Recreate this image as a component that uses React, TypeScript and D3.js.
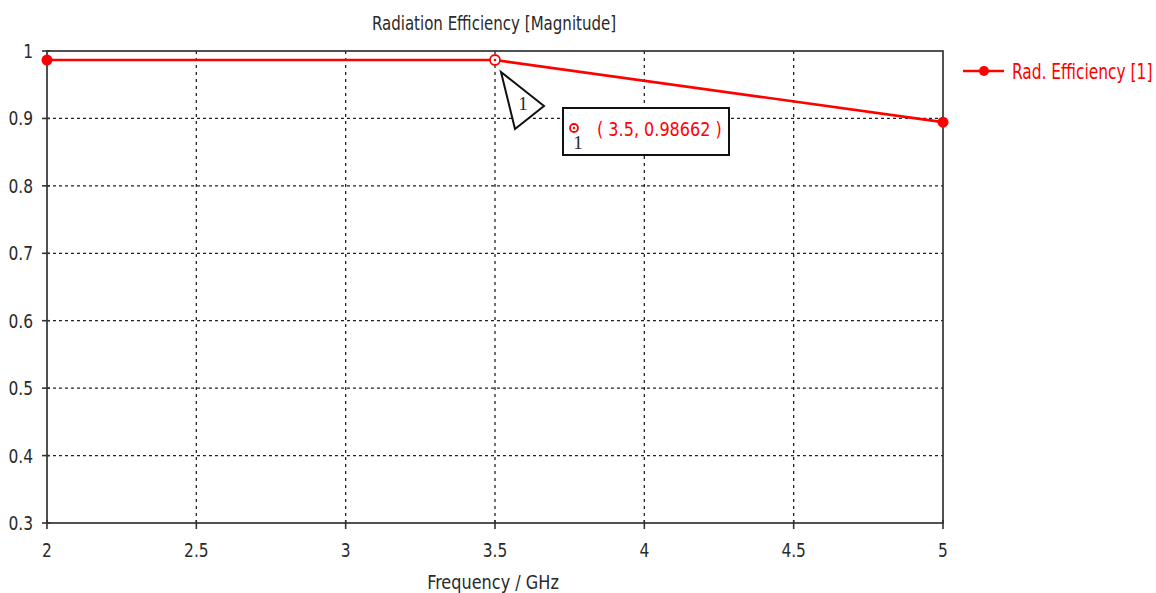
import React from "react";
import * as d3 from "d3";

const freqs = [2, 3.5, 5];
const radEff = [0.98655, 0.98662, 0.8945];
const xTicks = [2, 2.5, 3, 3.5, 4, 4.5, 5];
const yTicks = [0.3, 0.4, 0.5, 0.6, 0.7, 0.8, 0.9, 1];
const markerFreq = 3.5;
const markerVal = 0.98662;

const W = 1156;
const H = 593;
const m = { left: 47, right: 943, top: 51, bottom: 523 };
const font = "'DejaVu Sans Condensed', 'DejaVu Sans', sans-serif";
const red = "#ff0000";
const ink = "#2a2a2a";

// narrow, tall text like the original tool's font
const T = ({ x, y, size = 20, sx = 0.86, anchor = "start", fill = ink, children }: any) => (
  <text
    transform={`translate(${x},${y}) scale(${sx},1)`}
    textAnchor={anchor}
    fontFamily={font}
    fontSize={size}
    fill={fill}
  >
    {children}
  </text>
);

const App = () => {
  const x = d3.scaleLinear().domain([2, 5]).range([m.left, m.right]);
  const y = d3.scaleLinear().domain([0.3, 1]).range([m.bottom, m.top]);
  const pts = freqs.map((f, i) => [f, radEff[i]] as [number, number]);
  const line = d3
    .line<[number, number]>()
    .x((d) => x(d[0]))
    .y((d) => y(d[1]));

  const mx = x(markerFreq);
  const my = y(markerVal);

  return (
    <svg width={W} height={H} style={{ display: "block", position: "absolute", left: 0, top: 0 }}>
      <rect width={W} height={H} fill="#fff" />
      <T x={494} y={30} size={19} sx={0.88} anchor="middle">
        Radiation Efficiency [Magnitude]
      </T>

      {/* grid */}
      {xTicks.slice(1, -1).map((t) => (
        <line key={"gx" + t} x1={x(t)} x2={x(t)} y1={m.top} y2={m.bottom} stroke="#222" strokeWidth={1.3} strokeDasharray="3,4" />
      ))}
      {yTicks.slice(1, -1).map((t) => (
        <line key={"gy" + t} x1={m.left} x2={m.right} y1={y(t)} y2={y(t)} stroke="#222" strokeWidth={1.3} strokeDasharray="3,3" />
      ))}

      {/* frame */}
      <rect x={m.left} y={m.top} width={m.right - m.left} height={m.bottom - m.top} fill="none" stroke="#333" strokeWidth={1.7} />

      {/* ticks */}
      {xTicks.map((t) => (
        <g key={"xt" + t}>
          <line x1={x(t)} x2={x(t)} y1={m.bottom - 3} y2={m.bottom + 6} stroke="#333" strokeWidth={1.6} />
          <T x={x(t)} y={557} anchor="middle">
            {t}
          </T>
        </g>
      ))}
      {yTicks.map((t) => (
        <g key={"yt" + t}>
          <line x1={m.left - 5} x2={m.left + 3} y1={y(t)} y2={y(t)} stroke="#333" strokeWidth={1.6} />
          <T x={33} y={y(t) + 7} anchor="end">
            {t === 1 ? "1" : t.toFixed(1)}
          </T>
        </g>
      ))}
      <T x={493} y={589} anchor="middle" sx={0.895}>
        Frequency / GHz
      </T>

      {/* series */}
      <path d={line(pts) || ""} fill="none" stroke={red} strokeWidth={2.6} />
      <circle cx={x(freqs[0])} cy={y(radEff[0])} r={5.5} fill={red} />
      <circle cx={x(freqs[2])} cy={y(radEff[2])} r={5.5} fill={red} />

      {/* marker */}
      <circle cx={mx} cy={my} r={5} fill="#fff" stroke={red} strokeWidth={1.8} />
      <circle cx={mx} cy={my} r={1.3} fill={red} />
      <path d={`M${mx + 6},${my + 12} L${mx + 49},${my + 46} L${mx + 20},${my + 69} Z`} fill="#fff" stroke="#111" strokeWidth={2} />
      <text x={mx + 28} y={my + 50} textAnchor="middle" fontFamily="'Liberation Serif', serif" fontSize={19} fill={ink}>
        1
      </text>

      <rect x={563} y={108} width={166} height={47} fill="#fff" stroke="#111" strokeWidth={2} />
      <circle cx={574} cy={128} r={4} fill="#fff" stroke={red} strokeWidth={1.8} />
      <circle cx={574} cy={128} r={1.2} fill={red} />
      <text x={578} y={149} textAnchor="middle" fontFamily="'Liberation Serif', serif" fontSize={19} fill={ink}>
        1
      </text>
      <T x={597} y={136} size={19} sx={0.94} fill={red}>
        ( {markerFreq}, {markerVal} )
      </T>

      {/* legend */}
      <line x1={963} x2={1004} y1={71} y2={71} stroke={red} strokeWidth={2.4} />
      <circle cx={984} cy={71} r={5} fill={red} />
      <T x={1012} y={79} size={21} sx={0.817} fill={red}>
        Rad. Efficiency [1]
      </T>
    </svg>
  );
};

export default App;
